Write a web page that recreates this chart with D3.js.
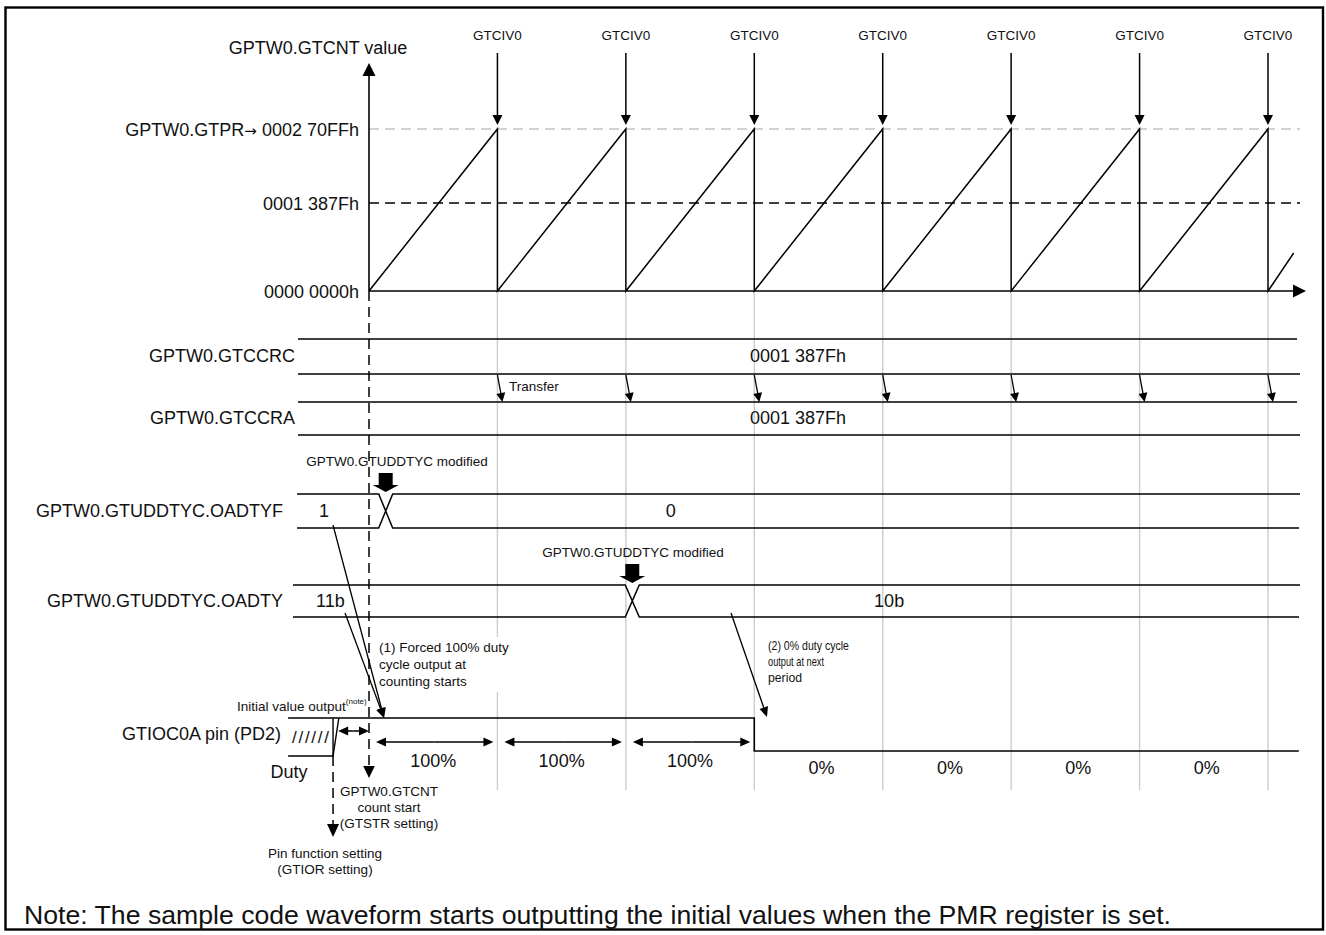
<!DOCTYPE html>
<html>
<head>
<meta charset="utf-8">
<title>GPTW0 duty cycle timing</title>
<script src="https://cdnjs.cloudflare.com/ajax/libs/d3/7.8.5/d3.min.js"></script>
<style>
  body { margin: 0; background: #fff; }
  svg text { font-family: "Liberation Sans", Arial, sans-serif; fill: #111; }
</style>
</head>
<body>
<svg id="chart" width="1326" height="935"></svg>
<script>
// ---- data ----
var GTPR = 0x270FF, GTCCR = 0x1387F;
var overflowPeriods = [1, 2, 3, 4, 5, 6, 7];           // GTCIV0 events
var counterPts = [[0, 0], [1, GTPR], [1, 0], [2, GTPR], [2, 0], [3, GTPR], [3, 0], [4, GTPR],
                  [4, 0], [5, GTPR], [5, 0], [6, GTPR], [6, 0], [7, GTPR], [7, 0], [7.2, 0x8700]];
var yLabels = ["0000 0000h", "0001 387Fh", "GPTW0.GTPR\u2192 0002 70FFh"];
var registers = ["GPTW0.GTCCRC", "GPTW0.GTCCRA"];
var registerValues = ["0001 387Fh", "0001 387Fh"];
var flagNames = ["GPTW0.GTUDDTYC.OADTYF", "GPTW0.GTUDDTYC.OADTY"];
var flagBefore = ["1", "11b"];
var flagAfter = ["0", "10b"];
var flagChangeAt = [0.13, 2.05];
var dutyPerPeriod = ["100%", "100%", "100%", "0%", "0%", "0%", "0%"];
var pinLevel = [[-0.63, 1], [3, 1], [3, 0], [7.24, 0]];

var BIG = 18, SMALL = 13.5;
var svg = d3.select("#chart");
var x = d3.scaleLinear().domain([0, 7]).range([369, 1268]);
var yC = d3.scaleLinear().domain([0, GTCCR, GTPR]).range([291, 203, 129]);
var yPin = d3.scaleLinear().domain([0, 1]).range([751, 718]);

function head(g, x1, y1, x2, y2, len, hw) {
  var a = Math.atan2(y2 - y1, x2 - x1), c = Math.cos(a), s = Math.sin(a);
  var bx = x2 - len * c, by = y2 - len * s;
  g.append("path")
    .attr("d", "M" + x2 + "," + y2 + "L" + (bx - hw * s) + "," + (by + hw * c) +
               "L" + (bx + hw * s) + "," + (by - hw * c) + "Z")
    .attr("fill", "#000");
}
function arrow(g, x1, y1, x2, y2, len, hw, dash, w) {
  var a = Math.atan2(y2 - y1, x2 - x1);
  g.append("line").attr("x1", x1).attr("y1", y1)
    .attr("x2", x2 - len * 0.8 * Math.cos(a)).attr("y2", y2 - len * 0.8 * Math.sin(a))
    .attr("stroke", "#000").attr("stroke-width", w || 1.3)
    .attr("stroke-dasharray", dash || null);
  head(g, x1, y1, x2, y2, len, hw);
}
function dbl(g, x1, x2, y) {
  var m = (x1 + x2) / 2;
  arrow(g, m, y, x1, y, 10, 4.6, null, 1.5);
  arrow(g, m, y, x2, y, 10, 4.6, null, 1.5);
}
function hline(g, x1, x2, y, w) {
  g.append("line").attr("x1", x1).attr("x2", x2).attr("y1", y).attr("y2", y)
    .attr("stroke", "#000").attr("stroke-width", w || 1.5);
}
function label(g, txt, tx, ty, size, anchor) {
  return g.append("text").attr("x", tx).attr("y", ty).attr("dy", "0.35em")
    .attr("font-size", size).attr("text-anchor", anchor || "start").text(txt);
}

// frame
svg.append("rect").attr("x", 5.5).attr("y", 7.5).attr("width", 1317.5).attr("height", 922)
  .attr("fill", "none").attr("stroke", "#000").attr("stroke-width", 2.4);

// light grid at each period boundary
var grid = svg.append("g");
overflowPeriods.forEach(function(t) {
  var spans = t === 1 ? [[293, 637], [692, 790]] : [[293, 790]];
  spans.forEach(function(s) {
    grid.append("line").attr("x1", x(t)).attr("x2", x(t)).attr("y1", s[0]).attr("y2", s[1])
      .attr("stroke", "#cdcdcd").attr("stroke-width", 1.4);
  });
});

// ---- counter plot ----
var plot = svg.append("g");
plot.append("line").attr("x1", x(0)).attr("x2", 1300).attr("y1", yC(GTPR)).attr("y2", yC(GTPR))
  .attr("stroke", "#c4c4c4").attr("stroke-width", 1.4).attr("stroke-dasharray", "10,6");
plot.append("line").attr("x1", x(0)).attr("x2", 1300).attr("y1", yC(GTCCR)).attr("y2", yC(GTCCR))
  .attr("stroke", "#000").attr("stroke-width", 1.4).attr("stroke-dasharray", "10,6");

var yAxis = d3.axisLeft(yC).tickValues([0, GTCCR, GTPR]).tickSize(0).tickPadding(10)
  .tickFormat(function(d, i) { return yLabels[i]; });
var yg = plot.append("g").attr("transform", "translate(" + x(0) + ",0)").call(yAxis);
yg.attr("font-size", null).attr("font-family", null);
yg.select(".domain").remove();
yg.selectAll("text").attr("font-size", BIG).attr("dy", "0.35em");
// wider arrow glyph in the GTPR label
yg.selectAll("text").filter(function(d) { return d === GTPR; }).each(function() {
  var t = d3.select(this), parts = t.text().split("\u2192");
  t.text(parts[0]);
  t.append("tspan").attr("font-family", "DejaVu Sans").attr("font-size", 15).text("\u2192");
  t.append("tspan").text(parts[1]);
});

arrow(plot, x(0), yC(0), x(0), 63, 13, 6.5, null, 1.6);
arrow(plot, x(0), yC(0), 1306, yC(0), 13, 6.5, null, 1.6);
label(plot, "GPTW0.GTCNT value", 318, 48, BIG, "middle");

plot.append("path").datum(counterPts)
  .attr("d", d3.line().x(function(d) { return x(d[0]); }).y(function(d) { return yC(d[1]); }))
  .attr("fill", "none").attr("stroke", "#000").attr("stroke-width", 1.5);

overflowPeriods.forEach(function(t) {
  label(plot, "GTCIV0", x(t), 35, SMALL, "middle");
  arrow(plot, x(t), 53, x(t), 125, 10, 5, null, 1.5);
});

// count start dashed marker
arrow(plot, x(0), yC(0), x(0), 778, 12, 5.8, "10,6", 1.5);

// ---- registers ----
var reg = svg.append("g");
var regRows = [[339, 374], [402, 435]];
registers.forEach(function(name, i) {
  var r = regRows[i];
  hline(reg, 298, 1297, r[0]);
  hline(reg, 298, 1300, r[1]);
  label(reg, name, 295, (r[0] + r[1]) / 2 - 1, BIG, "end");
  label(reg, registerValues[i], 798, (r[0] + r[1]) / 2 - 1, BIG, "middle");
});
overflowPeriods.forEach(function(t) {
  arrow(reg, x(t), 375, x(t) + 5, 402, 9, 4.5, null, 1.3);
});
label(reg, "Transfer", 509, 386, SMALL, "start");

// ---- GTUDDTYC flags ----
var flagRows = [[494, 528], [585, 617]];
var flagStart = [297, 293];
var beforeAt = [-0.35, -0.30], afterAt = [2.35, 4.05];
var modLabelAt = [397, 633];
flagNames.forEach(function(name, i) {
  var r = flagRows[i], cx = x(flagChangeAt[i]), hw = 7;
  var g = svg.append("g");
  g.append("path")
    .attr("d", "M" + flagStart[i] + "," + r[0] + "H" + (cx - hw) + "L" + (cx + hw) + "," + r[1] + "H1299" +
               "M" + flagStart[i] + "," + r[1] + "H" + (cx - hw) + "L" + (cx + hw) + "," + r[0] + "H1300")
    .attr("fill", "none").attr("stroke", "#000").attr("stroke-width", 1.5);
  label(g, name, 283, (r[0] + r[1]) / 2, BIG, "end");
  label(g, flagBefore[i], x(beforeAt[i]), (r[0] + r[1]) / 2, BIG, "middle");
  label(g, flagAfter[i], x(afterAt[i]), (r[0] + r[1]) / 2, BIG, "middle");
  // block arrow: register modified
  var bt = r[0] - 21;
  g.append("path")
    .attr("d", "M" + (cx - 7) + "," + bt + "H" + (cx + 7) + "V" + (bt + 12) + "H" + (cx + 13) +
               "L" + cx + "," + (bt + 19) + "L" + (cx - 13) + "," + (bt + 12) + "H" + (cx - 7) + "Z")
    .attr("fill", "#000");
  label(g, "GPTW0.GTUDDTYC modified", modLabelAt[i], bt - 12, SMALL, "middle");
});

// ---- GTIOC0A pin ----
var pin = svg.append("g");
pin.append("path").datum(pinLevel)
  .attr("d", d3.line().x(function(d) { return x(d[0]); }).y(function(d) { return yPin(d[1]); }))
  .attr("fill", "none").attr("stroke", "#000").attr("stroke-width", 1.6);
// initial (undefined) region before pin function setting
pin.append("path")
  .attr("d", "M" + x(-0.63) + "," + yPin(-0.15) + "H" + x(-0.28) + "L" + x(-0.235) + "," + yPin(1))
  .attr("fill", "none").attr("stroke", "#000").attr("stroke-width", 1.4);
pin.append("line").attr("x1", x(-0.28)).attr("x2", x(-0.28)).attr("y1", yPin(1)).attr("y2", yPin(-0.15))
  .attr("stroke", "#000").attr("stroke-width", 1.4);
arrow(pin, x(-0.28), yPin(-0.15), x(-0.28), 837, 13, 6, "10,6", 1.5);
pin.append("text").attr("x", 292).attr("y", 737).attr("dy", "0.35em").attr("font-size", 17)
  .attr("textLength", 37).attr("lengthAdjust", "spacing").text("//////");
label(pin, "GTIOC0A pin (PD2)", 281, 734, BIG, "end");
label(pin, "Duty", 289, 772, BIG, "middle");

var ini = label(pin, "Initial value output", 237, 706, SMALL, "start");
ini.append("tspan").attr("font-size", 8).attr("dy", "-0.9em").text("(note)");

dbl(pin, x(-0.24), x(0), 731);
dutyPerPeriod.forEach(function(d, i) {
  var cx = (x(i) + x(i + 1)) / 2;
  if (d === "100%") {
    dbl(pin, x(i) + 7, x(i + 1) - 4, 742);
    label(pin, d, cx, 761, BIG, "middle");
  } else {
    label(pin, d, cx + 3, 768, BIG, "middle");
  }
});

// ---- annotations ----
var ann = svg.append("g");
arrow(ann, 333, 525, 384, 718, 10, 4.5, null, 1.3);
arrow(ann, 345, 613, 384, 718, 10, 4.5, null, 1.3);
arrow(ann, 731, 613, 767, 717, 10, 4.5, null, 1.3);

["(1) Forced 100% duty", "cycle output at", "counting starts"].forEach(function(s, i) {
  label(ann, s, 379, 647 + i * 17, SMALL, "start");
});
var t2 = ["(2) 0% duty cycle", "output at next", "period"], t2w = [81, 56, 34];
t2.forEach(function(s, i) {
  label(ann, s, 768, 645 + i * 16, SMALL, "start")
    .attr("textLength", t2w[i]).attr("lengthAdjust", "spacingAndGlyphs");
});
["GPTW0.GTCNT", "count start", "(GTSTR setting)"].forEach(function(s, i) {
  label(ann, s, 389, 791 + i * 16, SMALL, "middle");
});
["Pin function setting", "(GTIOR setting)"].forEach(function(s, i) {
  label(ann, s, 325, 853 + i * 16, SMALL, "middle");
});

label(svg, "Note: The sample code waveform starts outputting the initial values when the PMR register is set.",
  24, 915, 26, "start").attr("textLength", 1147).attr("lengthAdjust", "spacingAndGlyphs");
</script>
</body>
</html>
